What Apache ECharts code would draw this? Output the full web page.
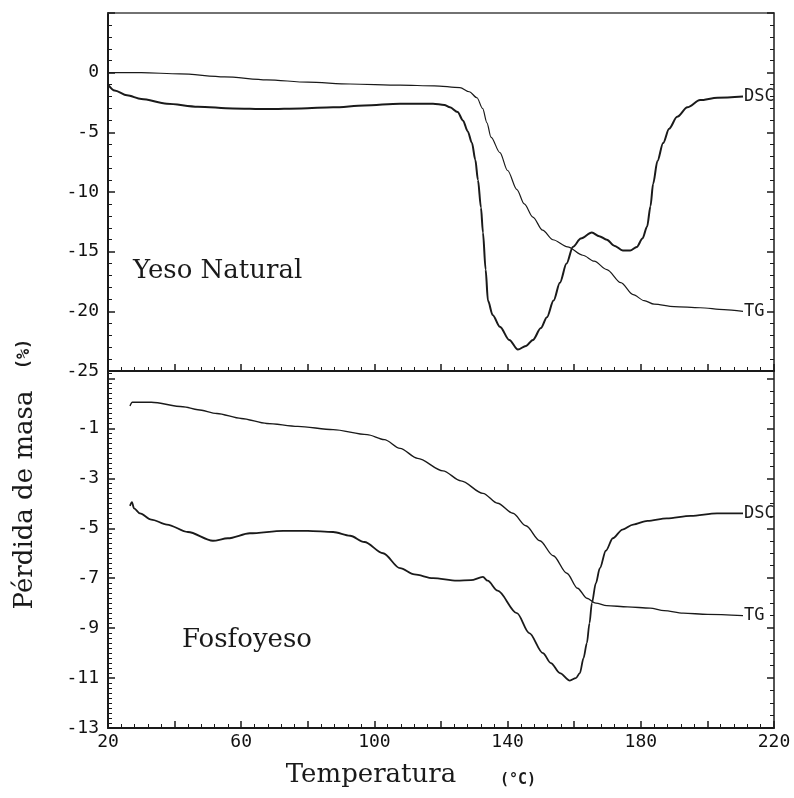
<!DOCTYPE html>
<html>
<head>
<meta charset="utf-8">
<script src="https://cdn.jsdelivr.net/npm/echarts@6/dist/echarts.min.js"></script>
<style>
  html, body { margin: 0; padding: 0; background: #fff; }
  #chart { width: 794px; height: 798px; }
</style>
</head>
<body>
<div id="chart"></div>
<script>
  // Yeso Natural (panel superior) - [temperatura, valor]
  const natDSC = [
    [20,-1.0],[22,-1.5],[25.7,-1.9],[30,-2.2],[37.7,-2.6],[47,-2.85],[57.5,-3.0],[67.7,-3.05],
    [78,-3.0],[87.6,-2.9],[97,-2.75],[107.7,-2.6],[117.6,-2.6],[121,-2.7],[122.7,-2.9],[125,-3.3],
    [126.6,-4.0],[128,-4.9],[129.3,-5.9],[130.3,-7.3],[131.1,-9.0],[132,-11.3],[132.6,-13.4],
    [133.4,-16.5],[134.1,-19.1],[135.5,-20.3],[137.7,-21.3],[140.5,-22.4],[143.1,-23.2],[145.5,-22.9],
    [147.6,-22.4],[150,-21.4],[151.8,-20.5],[153.8,-19.1],[155.7,-17.6],[157.7,-16.0],[159.6,-14.6],
    [162,-13.9],[165.3,-13.4],[167.5,-13.7],[169.8,-14.0],[172,-14.5],[174.6,-14.9],[176.8,-14.9],
    [178.8,-14.6],[180.5,-13.9],[181.9,-12.9],[182.9,-11.2],[183.7,-9.3],[185,-7.4],[186.7,-5.9],
    [188.5,-4.7],[190.9,-3.7],[194,-2.9],[197.8,-2.3],[203,-2.1],[210.7,-2.0]
  ];
  const natTG = [
    [20,0],[30,0],[41.6,-0.1],[55,-0.35],[67.7,-0.6],[80,-0.8],[92.7,-0.95],[107.7,-1.05],[118,-1.1],
    [125.7,-1.25],[128.5,-1.6],[130.8,-2.1],[132.5,-3.0],[133.8,-4.2],[135,-5.4],[137.7,-6.7],[140,-8.2],
    [142.8,-9.8],[145,-11.0],[147.6,-12.1],[150.5,-13.2],[153.6,-14.0],[158,-14.6],[162.6,-15.3],
    [166,-15.8],[169.8,-16.5],[174,-17.6],[177.7,-18.6],[181,-19.1],[184,-19.4],[190,-19.6],
    [197.8,-19.7],[205,-19.85],[210.7,-20.0]
  ];
  // Fosfoyeso (panel inferior)
  const fosDSC = [
    [26.6,-4.1],[27.2,-3.95],[27.8,-4.2],[29.6,-4.4],[33,-4.65],[37.7,-4.85],[44,-5.15],[51.5,-5.5],
    [56,-5.4],[62.6,-5.2],[72.6,-5.1],[80,-5.1],[87.6,-5.15],[92.7,-5.3],[97,-5.55],[102.6,-6.0],
    [107.7,-6.6],[112,-6.85],[117.6,-7.0],[124.8,-7.1],[129,-7.08],[132.6,-6.95],[134,-7.1],[137,-7.5],
    [142.8,-8.4],[146.5,-9.2],[150.6,-10.0],[153,-10.4],[155.7,-10.8],[158.7,-11.1],[160.5,-11.0],
    [161.7,-10.8],[162.8,-10.2],[163.8,-9.6],[164.6,-8.8],[165.3,-8.0],[166.5,-7.2],[167.7,-6.6],
    [169.5,-5.9],[171.6,-5.4],[174.5,-5.05],[177.7,-4.85],[182,-4.7],[187.8,-4.6],[195,-4.5],
    [202.9,-4.4],[210.7,-4.4]
  ];
  const fosTG = [
    [26.6,-0.1],[27.3,0.05],[33,0.05],[42.5,-0.13],[47,-0.25],[52.7,-0.4],[60,-0.6],[67.7,-0.8],
    [77,-0.92],[87.6,-1.05],[97.8,-1.25],[103,-1.45],[107.7,-1.8],[113,-2.2],[120.6,-2.7],[126,-3.1],
    [132.6,-3.6],[137,-4.0],[141.6,-4.4],[145.5,-4.9],[149.7,-5.5],[153.7,-6.1],[157.8,-6.8],[161,-7.4],
    [163.8,-7.8],[166.5,-8.0],[169.8,-8.1],[176,-8.15],[182.8,-8.2],[187,-8.3],[192.7,-8.4],
    [200,-8.45],[210.7,-8.5]
  ];

  const mono = 'DejaVu Sans Mono';
  const ink = '#1a1a1a';

  // eje x comun (ticks hacia dentro)
  const xBase = (grid, showLabel) => ({
    type: 'value', gridIndex: grid, min: 20, max: 220, interval: 20, position: 'bottom',
    axisLine: { show: true, onZero: false, lineStyle: { color: ink, width: 2 } },
    axisTick: { show: true, inside: true, length: 7, lineStyle: { color: ink, width: 1.5 } },
    minorTick: { show: true, splitNumber: 5, length: 4, lineStyle: { color: ink, width: 1 } },
    splitLine: { show: false },
    axisLabel: {
      show: showLabel, margin: 5, fontFamily: mono, fontSize: 18, color: '#111',
      formatter: v => ((v - 20) % 40 === 0 ? String(v) : '')
    }
  });

  const yBase = (grid, pos, min, max, interval, minorSplit, showLabel) => ({
    type: 'value', gridIndex: grid, position: pos, min: min, max: max, interval: interval,
    axisLine: { show: true, onZero: false, lineStyle: { color: ink, width: pos === 'left' ? 2 : 1.5 } },
    axisTick: { show: true, inside: true, length: 7, lineStyle: { color: ink, width: 1.5 } },
    minorTick: { show: true, splitNumber: minorSplit, length: 4, lineStyle: { color: ink, width: 1 } },
    splitLine: { show: false },
    axisLabel: {
      show: showLabel, margin: 9, fontFamily: mono, fontSize: 18, color: '#111',
      formatter: v => (v <= 0 ? String(v) : '')
    }
  });

  const lineSeries = (name, data, xi, yi, width) => ({
    name: name, type: 'line', data: data, xAxisIndex: xi, yAxisIndex: yi,
    showSymbol: false, smooth: 0.3, smoothMonotone: 'x',
    lineStyle: { color: ink, width: width },
    endLabel: { show: true, formatter: name, distance: 1, fontFamily: mono, fontSize: 17, color: ink }
  });

  let myChart = echarts.init(document.getElementById('chart'), null, { renderer: 'canvas' });
  let option = {
    animation: false,
    backgroundColor: '#fff',
    grid: [
      { left: 108, top: 13, width: 666, height: 358 },
      { left: 108, top: 371, width: 666, height: 357 }
    ],
    xAxis: [
      xBase(0, false),
      // borde superior
      { type: 'value', gridIndex: 0, min: 20, max: 220, position: 'top',
        axisLine: { show: true, onZero: false, lineStyle: { color: '#444', width: 1.5 } },
        axisTick: { show: false }, axisLabel: { show: false }, splitLine: { show: false } },
      xBase(1, true)
    ],
    yAxis: [
      yBase(0, 'left', -25, 5, 5, 5, true),
      yBase(0, 'right', -25, 5, 5, 5, false),
      yBase(1, 'left', -13, 1.3, 2, 10, true),
      yBase(1, 'right', -13, 1.3, 2, 4, false)
    ],
    series: [
      lineSeries('DSC', natDSC, 0, 0, 2),
      lineSeries('TG', natTG, 0, 0, 1.2),
      lineSeries('DSC', fosDSC, 2, 2, 1.8),
      lineSeries('TG', fosTG, 2, 2, 1.4)
    ],
    graphic: { elements: [
      { type: 'text', left: 133, top: 258, style: { text: 'Yeso Natural', font: '26px "DejaVu Serif"', fill: ink } },
      { type: 'text', left: 182, top: 627, style: { text: 'Fosfoyeso', font: '26px "DejaVu Serif"', fill: ink } },
      { type: 'text', x: 371, y: 775, style: { text: 'Temperatura', font: '26px "DejaVu Serif"', fill: ink, align: 'center', verticalAlign: 'middle' } },
      { type: 'text', x: 518, y: 780, style: { text: '(°C)', font: 'bold 15px "DejaVu Sans Mono"', fill: ink, align: 'center', verticalAlign: 'middle' } },
      { type: 'text', x: 25, y: 500, rotation: Math.PI / 2, style: { text: 'Pérdida de masa', font: '26px "DejaVu Serif"', fill: ink, align: 'center', verticalAlign: 'middle' } },
      { type: 'text', x: 25, y: 354, rotation: Math.PI / 2, style: { text: '(%)', font: 'bold 17px "DejaVu Sans Mono"', fill: ink, align: 'center', verticalAlign: 'middle' } }
    ] }
  };
  myChart.setOption(option);
</script>
</body>
</html>
